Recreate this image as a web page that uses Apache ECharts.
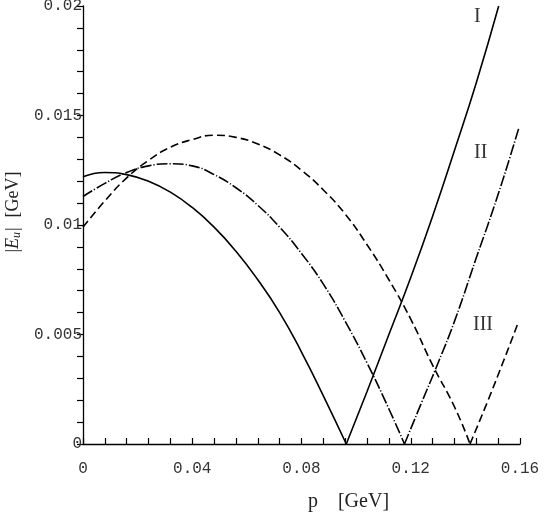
<!DOCTYPE html>
<html>
<head>
<meta charset="utf-8">
<script src="https://cdn.jsdelivr.net/npm/echarts@6/dist/echarts.min.js"></script>
<style>html,body{margin:0;padding:0;background:#fff}#c{width:545px;height:513px}</style>
</head>
<body>
<div id="c"></div>
<script>
// x ticks / y ticks
const xTicks = [0, 0.04, 0.08, 0.12, 0.16];
const yTicks = [0, 0.005, 0.01, 0.015, 0.02];

// Curve I (solid): falling branch and rising branch, [p, |E_u|]
const curveI_fall = [[0,0.0122],[0.008,0.0124],[0.016,0.0123],[0.024,0.0120],[0.032,0.0115],[0.040,0.0108],[0.048,0.0099],[0.056,0.0088],[0.064,0.0075],[0.072,0.0060],[0.080,0.0042],[0.088,0.0022],[0.0964,0]];
const curveI_rise = [[0.0964,0],[0.104,0.0024],[0.112,0.0050],[0.120,0.0076],[0.128,0.0104],[0.136,0.0134],[0.144,0.0165],[0.1522,0.0200]];

// Curve II (dash-dot)
const curveII_fall = [[0,0.0113],[0.008,0.0119],[0.016,0.0124],[0.024,0.0127],[0.032,0.0128],[0.040,0.0127],[0.048,0.0123],[0.056,0.0117],[0.064,0.0109],[0.072,0.0099],[0.080,0.0087],[0.088,0.0073],[0.096,0.0056],[0.104,0.0037],[0.112,0.0016],[0.1177,0]];
const curveII_rise = [[0.1177,0],[0.124,0.0019],[0.130,0.0037],[0.136,0.0056],[0.144,0.0085],[0.152,0.0114],[0.1595,0.0144]];

// Curve III (dashed)
const curveIII_fall = [[0,0.0099],[0.008,0.0111],[0.016,0.01215],[0.024,0.01295],[0.032,0.01355],[0.040,0.0139],[0.048,0.0141],[0.056,0.0140],[0.064,0.0137],[0.072,0.0132],[0.080,0.0125],[0.088,0.0116],[0.096,0.0105],[0.104,0.0091],[0.112,0.0075],[0.120,0.0057],[0.128,0.0036],[0.136,0.0017],[0.1417,0]];
const curveIII_rise = [[0.1417,0],[0.148,0.0019],[0.154,0.0038],[0.1595,0.0056]];

const curveLabels = ['I', 'II', 'III'];

const chart = echarts.init(document.getElementById('c'), null, {renderer: 'canvas'});
const axisCol = '#000';
const lblStyle = {color: '#333', fontFamily: 'Liberation Mono', fontSize: 16};
function ser(data, type) {
  return {type: 'line', data: data, showSymbol: false, smooth: true, animation: false,
    lineStyle: {color: '#000', width: 1.6, type: type}};
}
const solid = 'solid', dashDot = [11, 2, 1.2, 2], dashed = [8, 4];
chart.setOption({
  animation: false,
  grid: {left: 83, right: 25, top: 6, bottom: 69, containLabel: false, outerBoundsMode: 'none'},
  xAxis: {
    type: 'value', min: xTicks[0], max: xTicks[xTicks.length - 1], interval: 0.04,
    axisLine: {lineStyle: {color: axisCol, width: 1.3}},
    axisTick: {inside: true, length: 6, lineStyle: {color: axisCol, width: 1.2}},
    minorTick: {show: true, splitNumber: 5, length: 6, lineStyle: {color: axisCol, width: 1.2}},
    splitLine: {show: false},
    axisLabel: Object.assign({margin: 17, formatter: v => String(+v.toFixed(3))}, lblStyle),
    name: 'p    [GeV]', nameLocation: 'middle', nameGap: 48,
    nameTextStyle: {fontFamily: 'Liberation Serif', fontSize: 20, color: '#222', padding: [0, 0, 0, 94]}
  },
  yAxis: {
    type: 'value', min: yTicks[0], max: yTicks[yTicks.length - 1], interval: 0.005,
    axisLine: {lineStyle: {color: axisCol, width: 1.3}},
    axisTick: {inside: false, length: 6, lineStyle: {color: axisCol, width: 1.2}},
    minorTick: {show: true, splitNumber: 5, length: 6, lineStyle: {color: axisCol, width: 1.2}},
    splitLine: {show: false},
    axisLabel: Object.assign({margin: 1, formatter: v => String(+v.toFixed(3))}, lblStyle),
    name: '{n||}{i|E}{s|u}{n||}   {n|[GeV]}', nameLocation: 'middle', nameGap: 58, nameRotate: 90,
    nameTextStyle: {
      padding: [0, 0, 0, 26],
      rich: {
        n: {fontFamily: 'Liberation Serif', fontSize: 18, color: '#222'},
        i: {fontFamily: 'Liberation Serif', fontStyle: 'italic', fontSize: 18, color: '#222'},
        s: {fontFamily: 'Liberation Serif', fontStyle: 'italic', fontSize: 12, color: '#222', padding: [8, 1, 0, 0]}
      }
    }
  },
  series: [
    ser(curveI_fall, solid), ser(curveI_rise, solid),
    ser(curveII_fall, dashDot), ser(curveII_rise, dashDot),
    ser(curveIII_fall, dashed), ser(curveIII_rise, dashed)
  ],
  graphic: [
    {type: 'text', left: 474, top: 7, style: {text: curveLabels[0], font: '20px "Liberation Serif"', fill: '#333'}},
    {type: 'text', left: 474, top: 143, style: {text: curveLabels[1], font: '20px "Liberation Serif"', fill: '#333'}},
    {type: 'text', left: 473, top: 315, style: {text: curveLabels[2], font: '20px "Liberation Serif"', fill: '#333'}}
  ]
});
</script>
</body>
</html>
